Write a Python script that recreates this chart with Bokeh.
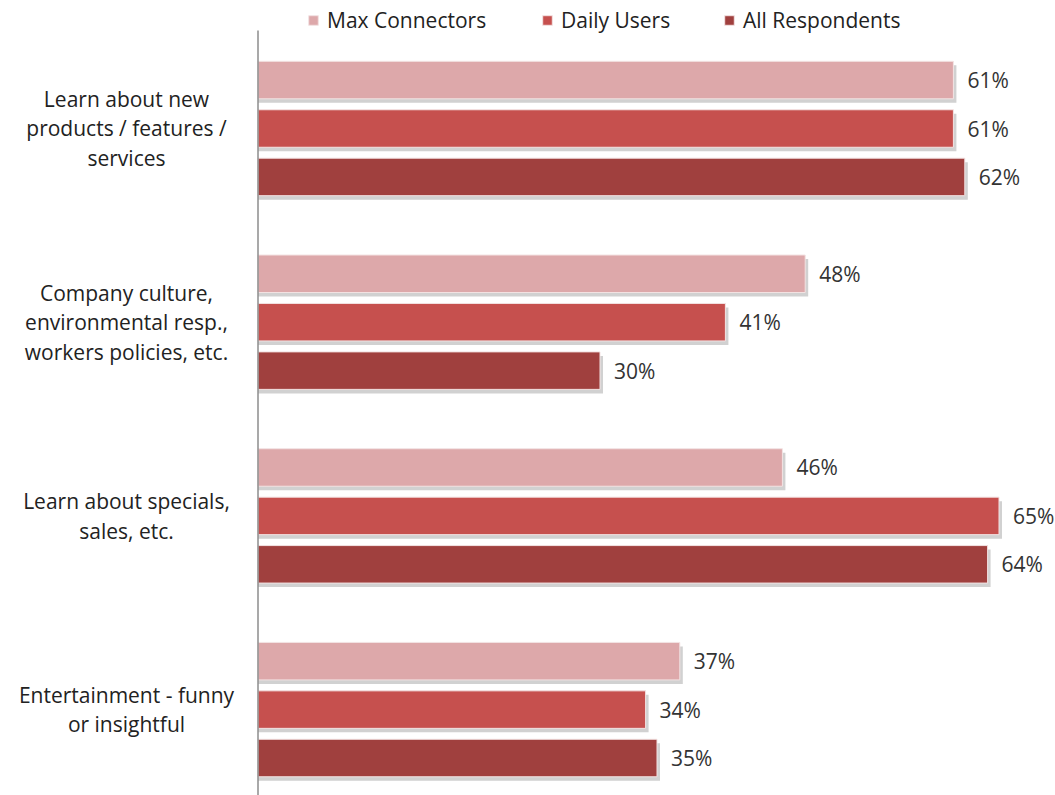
from bokeh.plotting import figure
from bokeh.models import Range1d, ColumnDataSource, Legend, LegendItem
from bokeh.core.properties import value
from bokeh.embed import file_html
from bokeh.resources import INLINE

categories = [
    "Learn about new\nproducts / features /\nservices",
    "Company culture,\nenvironmental resp.,\nworkers policies, etc.",
    "Learn about specials,\nsales, etc.",
    "Entertainment - funny\nor insightful",
]
series_names = ["Max Connectors", "Daily Users", "All Respondents"]
max_connectors = [61, 48, 46, 37]
daily_users = [61, 41, 65, 34]
all_respondents = [62, 30, 64, 35]
colors = ["#DDA8AA", "#C6504E", "#A0403E"]

W, H = 1055, 795
px_per_pct = 11.4
axis_px = 257.5
group_px = 193.7
first_center_px = 128.0

x0 = -axis_px / px_per_pct
x1 = (W - axis_px) / px_per_pct
y_top = -first_center_px / group_px
y_bot = (H - first_center_px) / group_px

p = figure(width=W, height=H, output_backend="svg", toolbar_location=None,
           x_range=Range1d(x0, x1), y_range=Range1d(y_bot, y_top),
           min_border=0, min_border_left=0, min_border_right=0,
           min_border_top=0, min_border_bottom=0)
p.xaxis.visible = False
p.yaxis.visible = False
p.xgrid.visible = False
p.ygrid.visible = False
p.outline_line_color = None
p.background_fill_color = "white"
p.border_fill_color = "white"

FONT = "Open Sans"
FS = "21px"
offsets = [-0.25, 0.0, 0.25]
bar_h = 37.5 / group_px
shadow_dx = 3.0 / px_per_pct
shadow_dy = 4.0 / group_px

renderers = []
for s, (vals, col, off) in enumerate(zip([max_connectors, daily_users, all_respondents], colors, offsets)):
    ys = [i + off for i in range(len(categories))]
    src = ColumnDataSource(dict(
        y=ys, v=vals,
        ys=[y + shadow_dy for y in ys],
        vs=[v + shadow_dx for v in vals],
        ly=ys,
        lx=[v + 14.0 / px_per_pct for v in vals],
        lab=[f"{v}%" for v in vals],
    ))
    p.hbar(y="ys", left=0, right="vs", height=bar_h, source=src,
           fill_color="#9a9a9a", fill_alpha=0.45, line_color=None)
    r = p.hbar(y="y", left=0, right="v", height=bar_h, source=src,
               fill_color=col, line_color="#f3e3e3", line_width=1)
    renderers.append(r)
    p.text(x="lx", y="ly", text="lab", source=src, text_font=value(FONT),
           text_font_size=FS, text_color="#333333",
           text_align="left", text_baseline="middle")

# category labels
cat_src = ColumnDataSource(dict(
    x=[(126 - axis_px) / px_per_pct] * len(categories),
    y=list(range(len(categories))),
    t=categories,
))
p.text(x="x", y="y", text="t", source=cat_src, text_font=value(FONT),
       text_font_size=FS, text_color="#222222", text_align="center",
       text_baseline="middle", text_line_height=1.05)

# vertical axis line
p.segment(x0=[0], y0=[(30 - first_center_px) / group_px], x1=[0], y1=[y_bot + 0.1],
          line_color="#8c8c8c", line_width=1.5)

# legend items placed individually
legend_x = [307, 541, 723]
for name, r, lx in zip(series_names, renderers, legend_x):
    lg = Legend(items=[LegendItem(label=name, renderers=[r])],
                location=(lx, H - 34), orientation="horizontal",
                glyph_width=12, glyph_height=12, label_standoff=8,
                padding=0, margin=0, border_line_color=None,
                background_fill_alpha=0, label_text_font=FONT,
                label_text_font_size="21px", label_text_color="#222222",
                label_height=21)
    p.add_layout(lg, "center")

open("out.html", "w").write(file_html(p, INLINE))
